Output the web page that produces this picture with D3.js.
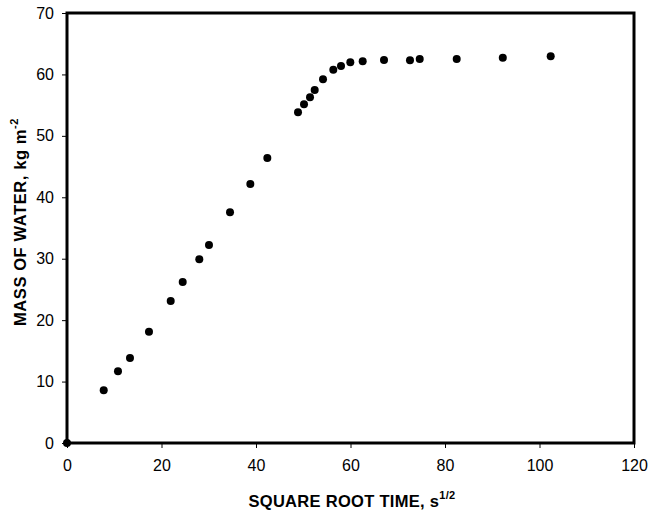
<!DOCTYPE html>
<html><head><meta charset="utf-8">
<script src="https://cdn.jsdelivr.net/npm/d3@7"></script>
<style>body{margin:0;background:#fff}svg{display:block}</style>
</head><body>
<script>
const sqrtTime = [0, 7.77, 10.79, 13.33, 17.35, 21.95, 24.49, 28.0, 30.05, 34.5, 38.8, 42.4, 48.89, 50.16, 51.43, 52.42, 54.18, 56.36, 57.99, 59.96, 62.58, 67.09, 72.59, 74.65, 82.48, 92.23, 102.37];
const massWater = [0, 8.58, 11.67, 13.84, 18.12, 23.12, 26.21, 29.9, 32.23, 37.55, 42.16, 46.39, 53.83, 55.14, 56.28, 57.46, 59.2, 60.77, 61.37, 61.97, 62.14, 62.35, 62.3, 62.51, 62.51, 62.72, 62.95];
const xTicks = [0, 20, 40, 60, 80, 100, 120];
const yTicks = [0, 10, 20, 30, 40, 50, 60, 70];

const W = 649, H = 512;
const m = {l: 67, t: 13, r: 649 - 634, b: 512 - 443};
const svg = d3.select("body").append("svg").attr("width", W).attr("height", H);
const x = d3.scaleLinear().domain([0, 120]).range([m.l, W - m.r]);
const y = d3.scaleLinear().domain([0, 70]).range([H - m.b, m.t]);

const font = "Arial, 'Liberation Sans', sans-serif";

const xAxis = svg.append("g").attr("transform", `translate(0,${y(0)})`)
  .call(d3.axisBottom(x).tickValues(xTicks).tickSize(5).tickPadding(12));
const yAxis = svg.append("g").attr("transform", `translate(${x(0)},0)`)
  .call(d3.axisLeft(y).tickValues(yTicks).tickSize(5).tickPadding(8));
[xAxis, yAxis].forEach(g => {
  g.select(".domain").remove();
  g.selectAll(".tick line").attr("stroke", "#000").attr("stroke-width", 1);
  g.selectAll(".tick text").attr("font-family", font).attr("font-size", 16).attr("fill", "#000");
});

svg.append("rect").attr("x", x(0)).attr("y", y(70))
  .attr("width", x(120) - x(0)).attr("height", y(0) - y(70))
  .attr("fill", "none").attr("stroke", "#000").attr("stroke-width", 3);

svg.append("g").selectAll("circle").data(sqrtTime).join("circle")
  .attr("cx", d => x(d)).attr("cy", (d, i) => y(massWater[i]))
  .attr("r", 4).attr("fill", "#000");

const xt = svg.append("text").attr("x", 352).attr("y", 506.5)
  .attr("text-anchor", "middle").attr("font-family", font).attr("font-size", 16.5)
  .attr("letter-spacing", 0.3)
  .attr("font-weight", "bold").attr("fill", "#000");
xt.append("tspan").text("SQUARE ROOT TIME, s");
xt.append("tspan").attr("dy", -8).attr("font-size", 11).text("1/2");

const yt = svg.append("text")
  .attr("transform", `translate(25.5,222) rotate(-90)`)
  .attr("text-anchor", "middle").attr("font-family", font).attr("font-size", 16.5)
  .attr("letter-spacing", 0.6)
  .attr("font-weight", "bold").attr("fill", "#000");
yt.append("tspan").text("MASS OF WATER, kg m");
yt.append("tspan").attr("dy", -8).attr("font-size", 11).text("-2");
</script>
</body></html>
